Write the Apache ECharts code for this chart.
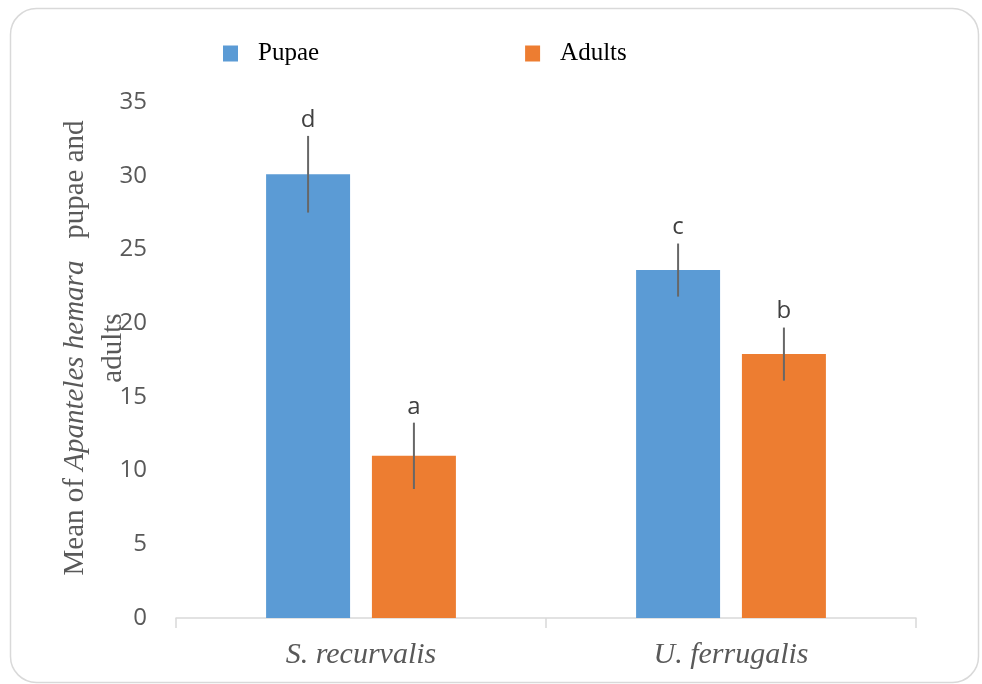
<!DOCTYPE html>
<html>
<head>
<meta charset="utf-8">
<script src="https://cdn.jsdelivr.net/npm/echarts@6/dist/echarts.min.js"></script>
<style>
html,body{margin:0;padding:0;background:#fff;}
#chart{width:982px;height:684px;}
</style>
</head>
<body>
<div id="chart"></div>
<script>
const categories = ['S. recurvalis', 'U. ferrugalis'];
const pupae = [30.1, 23.6];
const pupaeErr = [2.6, 1.8];
const pupaeLetters = ['d', 'c'];
const adults = [11.0, 17.9];
const adultsErr = [2.25, 1.8];
const adultsLetters = ['a', 'b'];
const yMin = 0, yMax = 35, yInterval = 5;

const BAR_W = 0.227, BAR_GAP = 0.26;

function errSeries(name, means, errs, letters, side) {
  return {
    name: name,
    type: 'custom',
    z: 5,
    data: means.map((m, i) => [i, m, errs[i]]),
    encode: { x: 0, y: 1 },
    renderItem: function (params, api) {
      const i = api.value(0), m = api.value(1), e = api.value(2);
      const band = api.size([1, 0])[0];
      const w = band * BAR_W, g = w * BAR_GAP;
      const off = side * (w + g) / 2;
      const top = api.coord([i, m + e]);
      const bot = api.coord([i, m - e]);
      const x = top[0] + off;
      return {
        type: 'group',
        children: [
          { type: 'line', shape: { x1: x, y1: top[1], x2: x, y2: bot[1] },
            style: { stroke: '#676767', lineWidth: 2 } },
          { type: 'text', style: { text: letters[params.dataIndex], x: x, y: top[1] - 4,
            textAlign: 'center', textVerticalAlign: 'bottom',
            fontFamily: 'Open Sans', fontSize: 24, fill: '#404040' } }
        ]
      };
    }
  };
}

const chart = echarts.init(document.getElementById('chart'));
chart.setOption({
  backgroundColor: '#fff',
  animation: false,
  graphic: [
    { type: 'rect', z: -10, shape: { x: 10.5, y: 8.5, width: 968, height: 674, r: 26 },
      style: { fill: 'none', stroke: '#d9d9d9', lineWidth: 1.5 } },
    { type: 'text', z: 10, x: 94, y: 348, rotation: Math.PI / 2,
      style: {
        text: '{n|Mean of }{i|Apanteles hemara}{n|   pupae and}\n{n|adults}',
        textAlign: 'center', textVerticalAlign: 'middle',
        fontFamily: 'Liberation Serif', fontSize: 29, fill: '#595959',
        lineHeight: 38,
        rich: {
          n: { fontFamily: 'Liberation Serif', fontSize: 29, fill: '#595959', color: '#595959', lineHeight: 38 },
          i: { fontFamily: 'Liberation Serif', fontSize: 29, fontStyle: 'italic', fill: '#595959', color: '#595959', lineHeight: 38 }
        }
      } }
  ],
  legend: {
    data: ['Pupae', 'Adults'],
    left: 218, top: 36,
    icon: 'rect', itemWidth: 15, itemHeight: 16, itemGap: 206,
    textStyle: { fontFamily: 'Liberation Serif', fontSize: 25, color: '#000', padding: [0, 0, 0, 15] }
  },
  grid: { left: 176, right: 66, top: 102, bottom: 66, containLabel: false },
  xAxis: {
    type: 'category',
    data: categories,
    axisLine: { lineStyle: { color: '#d9d9d9', width: 1.5 } },
    axisTick: { show: true, length: 10, lineStyle: { color: '#d9d9d9', width: 1.5 } },
    axisLabel: { fontFamily: 'Liberation Serif', fontStyle: 'italic', fontSize: 30, color: '#595959', margin: 22 }
  },
  yAxis: {
    type: 'value',
    min: yMin, max: yMax, interval: yInterval,
    axisLine: { show: false }, axisTick: { show: false }, splitLine: { show: false },
    axisLabel: { fontFamily: 'Open Sans', fontSize: 24, color: '#595959', margin: 29 }
  },
  series: [
    { name: 'Pupae', type: 'bar', data: pupae, barWidth: (BAR_W * 100) + '%', barGap: (BAR_GAP * 100) + '%',
      itemStyle: { color: '#5B9BD5' } },
    { name: 'Adults', type: 'bar', data: adults, barWidth: (BAR_W * 100) + '%',
      itemStyle: { color: '#ED7D31' } },
    errSeries('PupaeErr', pupae, pupaeErr, pupaeLetters, -1),
    errSeries('AdultsErr', adults, adultsErr, adultsLetters, 1)
  ]
});
</script>
</body>
</html>
